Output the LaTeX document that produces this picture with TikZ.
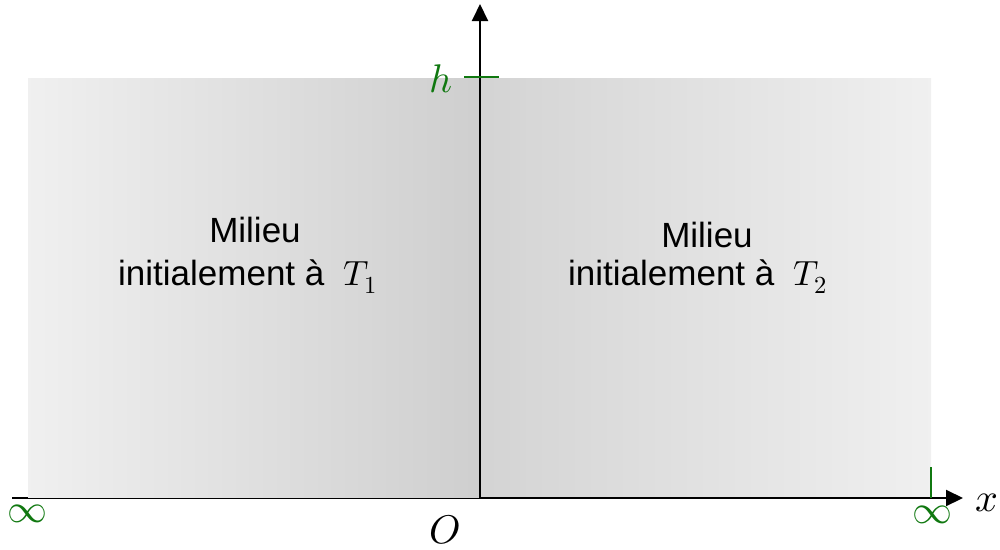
\documentclass[tikz,border=0pt]{standalone}
\usepackage{fontspec}
\setmainfont{Liberation Sans}
\usepackage{unicode-math}
\setmathfont{Latin Modern Math}
\usetikzlibrary{arrows.meta}
\definecolor{axgreen}{RGB}{16,120,16}
\tikzset{
  lbl/.style={inner sep=0pt, font=\fontsize{35}{42}\selectfont, text=black},
  mlbl/.style={inner sep=0pt, font=\fontsize{40}{48}\selectfont},
  axis/.style={line width=2pt, draw=black},
  tick/.style={line width=1.5pt, draw=axgreen},
}
\begin{document}
\begin{tikzpicture}[x=1pt,y=-1pt]
\useasboundingbox (0,0) rectangle (1000,549);
% axis lines under the shaded regions
\coordinate (xl) at (12,498);
\coordinate (o) at (480,498);
\coordinate (xr) at (963,498);
\coordinate (yt) at (480,4);
\draw[axis] (xl) -- (o);
% shaded media
\shade[left color=black!6, right color=black!19] (28,78) rectangle (480,497.5);
\shade[left color=black!17, right color=black!6] (480,78) rectangle (931,497.5);
\draw[axis, -{Triangle[length=17pt,width=16pt]}] (o) -- (xr);
\draw[axis, -{Triangle[length=17pt,width=16pt]}] (o) -- (yt);
% ticks
\coordinate (ha) at (464,77);
\coordinate (hb) at (499,77);
\draw[tick] (ha) -- (hb);
\coordinate (ta) at (931,467);
\coordinate (tb) at (931,498);
\draw[tick] (ta) -- (tb);
% labels
\node[mlbl, text=axgreen, anchor=base] (h) at (441,92) {$h$};
\node[mlbl, text=axgreen] (infl) at (28,514) {$\infty$};
\node[mlbl, text=axgreen] (infr) at (932,515) {$\infty$};
\node[mlbl, anchor=base] (O) at (445,543) {$O$};
\node[mlbl, anchor=base west] (X) at (975,511) {$x$};
\node[lbl, anchor=base] (m1) at (255,242) {Milieu};
\node[lbl, anchor=base west] (i1) at (118,285) {initialement à~~$T_1$};
\node[lbl, anchor=base] (m2) at (707,247) {Milieu};
\node[lbl, anchor=base west] (i2) at (568,285) {initialement à~~$T_2$};
\end{tikzpicture}
\end{document}
